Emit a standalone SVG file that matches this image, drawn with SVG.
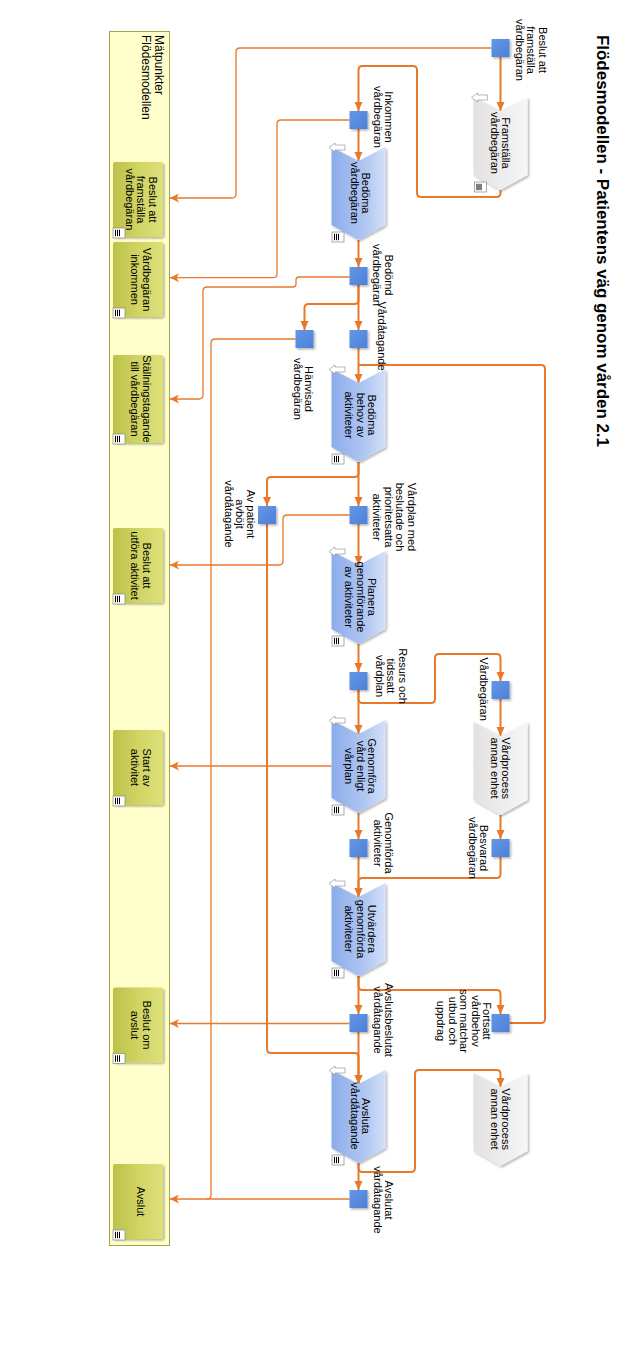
<svg xmlns="http://www.w3.org/2000/svg" width="625" height="1354" viewBox="0 0 625 1354">
<style>
.t{font-family:"Liberation Sans",Arial,sans-serif;font-size:11px;fill:#000}
.bt{font-family:"Liberation Sans",Arial,sans-serif;font-size:12px;fill:#000}
.title{font-family:"Liberation Sans",Arial,sans-serif;font-size:17px;font-weight:bold;fill:#000}
.p{fill:none;stroke:#E8792B;stroke-width:2;marker-end:url(#ar)}
.pn{fill:none;stroke:#E8792B;stroke-width:2}
.m{fill:none;stroke:#E8792B;stroke-width:1.3}
.ma{fill:none;stroke:#E8792B;stroke-width:1.3;marker-end:url(#am)}
.ev{fill:url(#gEv);filter:url(#sh)}
.pb{fill:url(#gPb);filter:url(#sh)}
.pg{fill:url(#gPg);filter:url(#sh)}
.mb{fill:url(#gMb);filter:url(#sh)}
</style>
<defs>
<filter id="sh" x="-20%" y="-20%" width="150%" height="150%"><feDropShadow dx="1.5" dy="1.5" stdDeviation="1" flood-color="#000" flood-opacity="0.3"/></filter>
<linearGradient id="gPb" x1="0" y1="0" x2="1" y2="0"><stop offset="0" stop-color="#8cacec"/><stop offset="0.65" stop-color="#b2c8f2"/><stop offset="1" stop-color="#d4e0f8"/></linearGradient>
<linearGradient id="gPg" x1="0" y1="0" x2="1" y2="0"><stop offset="0" stop-color="#e2e2e2"/><stop offset="1" stop-color="#f6f6f6"/></linearGradient>
<linearGradient id="gEv" x1="0" y1="0" x2="1" y2="1"><stop offset="0" stop-color="#6497e4"/><stop offset="1" stop-color="#4d80d8"/></linearGradient>
<linearGradient id="gMb" x1="0" y1="0" x2="1" y2="0"><stop offset="0" stop-color="#bcc14a"/><stop offset="0.5" stop-color="#d0d462"/><stop offset="1" stop-color="#dde07a"/></linearGradient>
<marker id="ar" markerUnits="userSpaceOnUse" markerWidth="9" markerHeight="9" viewBox="0 0 9 9" refX="9" refY="4.5" orient="auto"><path d="M0,0.5 L9,4.5 L0,8.5 Z" fill="#E8792B"/></marker>
<marker id="am" markerUnits="userSpaceOnUse" markerWidth="9" markerHeight="9" viewBox="0 0 9 9" refX="9" refY="4.5" orient="auto"><path d="M0,0 L9,4.5 L0,9 L2.5,4.5 Z" fill="#E8792B"/></marker>
<g id="icoArrow"><path d="M0,4.5 L6,0 L6,2 L16,2 L16,7 L6,7 L6,9 Z" fill="#fff" stroke="#999" stroke-width="0.7"/></g>
<g id="icoDoc"><rect x="0" y="0" width="12" height="10" fill="#fff" stroke="#888" stroke-width="0.7"/><path d="M2.5,1.8 V8.2 M4.5,1.8 V8.2 M6.5,1.8 V8.2" stroke="#000" stroke-width="1"/></g>
</defs>

<rect width="625" height="1354" fill="#fff"/>

<text id="title" class="title" transform="translate(597,35) rotate(90)" textLength="412">Flödesmodellen - Patientens väg genom vården 2.1</text>

<g id="band">
<rect x="109.5" y="31.5" width="60" height="1214" fill="#ffffcc" stroke="#a3a341" stroke-width="1"/>
<text class="bt" transform="translate(155,35) rotate(90)"><tspan x="0" y="0">Mätpunkter</tspan><tspan x="0" y="13.5">Flödesmodellen</tspan></text>
</g>

<g id="b1"><rect class="mb" x="113" y="162" width="50" height="75" rx="2"/><use href="#icoDoc" x="113" y="228"/>
<text class="t" text-anchor="middle" transform="translate(148.5,199.5) rotate(90)"><tspan x="0" y="0">Beslut att</tspan><tspan x="0" y="11.5">framställa</tspan><tspan x="0" y="23">vårdbegäran</tspan></text></g>
<g id="b2"><rect class="mb" x="113" y="242" width="50" height="75" rx="2"/><use href="#icoDoc" x="113" y="308"/>
<text class="t" text-anchor="middle" transform="translate(142.75,279.5) rotate(90)"><tspan x="0" y="0">Vårdbegäran</tspan><tspan x="0" y="11.5">inkommen</tspan></text></g>
<g id="b3"><rect class="mb" x="113" y="355" width="50" height="88" rx="2"/><use href="#icoDoc" x="113" y="434"/>
<text class="t" text-anchor="middle" transform="translate(142.75,399) rotate(90)"><tspan x="0" y="0">Ställningstagande</tspan><tspan x="0" y="11.5">till vårdbegäran</tspan></text></g>
<g id="b4"><rect class="mb" x="113" y="528" width="50" height="75" rx="2"/><use href="#icoDoc" x="113" y="594"/>
<text class="t" text-anchor="middle" transform="translate(142.75,565.5) rotate(90)"><tspan x="0" y="0">Beslut att</tspan><tspan x="0" y="11.5">utföra aktivitet</tspan></text></g>
<g id="b5"><rect class="mb" x="113" y="730" width="50" height="75" rx="2"/><use href="#icoDoc" x="113" y="796"/>
<text class="t" text-anchor="middle" transform="translate(142.75,767.5) rotate(90)"><tspan x="0" y="0">Start av</tspan><tspan x="0" y="11.5">aktivitet</tspan></text></g>
<g id="b6"><rect class="mb" x="113" y="987.5" width="50" height="75" rx="2"/><use href="#icoDoc" x="113" y="1053.5"/>
<text class="t" text-anchor="middle" transform="translate(142.75,1025) rotate(90)"><tspan x="0" y="0">Beslut om</tspan><tspan x="0" y="11.5">avslut</tspan></text></g>
<g id="b7"><rect class="mb" x="113" y="1164" width="50" height="75" rx="2"/><use href="#icoDoc" x="113" y="1230"/>
<text class="t" text-anchor="middle" transform="translate(137,1201.5) rotate(90)"><tspan x="0" y="0">Avslut</tspan></text></g>

<g id="connectors">
<path class="ma" d="M491.5,48 H240 Q236,48 236,52 V194 Q236,198 232,198 H170"/>
<path class="ma" d="M349.5,120 H281 Q277,120 277,124 V273.7 Q277,277.7 273,277.7 H170"/>
<path class="ma" d="M349.5,277 H299 Q296,277 296,280 V284 Q296,287 293,287 H207 Q203,287 203,291 V395 Q203,399 199,399 H170"/>
<path class="m" d="M295.5,339 H215 Q211,339 211,343 V1195 Q211,1199 207,1199"/>
<path class="ma" d="M349.5,515 H287 Q283,515 283,519 V561 Q283,565 279,565 H170"/>
<path class="ma" d="M331.5,766 H170"/>
<path class="ma" d="M349.5,1023.5 H170"/>
<path class="ma" d="M349.5,1199 H170"/>

<path class="p" d="M500.5,57 V111"/>
<path class="p" d="M500.5,190 V193 Q500.5,197 496.5,197 H421 Q417,197 417,193 V70 Q417,66 413,66 H362.5 Q358.5,66 358.5,70 V111"/>
<path class="p" d="M358.5,129 V161"/>
<path class="p" d="M358.5,240 V267"/>
<path class="p" d="M358.5,285 V330"/>
<path class="p" d="M358.5,285 V300 Q358.5,304 354.5,304 H308.5 Q304.5,304 304.5,308 V330"/>
<path class="pn" d="M509.5,1023 H541 Q545,1023 545,1019 V369 Q545,365 541,365 H358.5"/>
<path class="p" d="M358.5,348 V383"/>
<path class="p" d="M358.5,462 V506"/>
<path class="p" d="M358.5,462 V473 Q358.5,477 354.5,477 H271 Q267,477 267,481 V506"/>
<path class="p" d="M358.5,524 V565"/>
<path class="p" d="M267,524 V1049 Q267,1053 271,1053 H354.5 Q358.5,1053 358.5,1057 V1084"/>
<path class="p" d="M358.5,644 V672"/>
<path class="p" d="M358.5,690 V734"/>
<path class="p" d="M358.5,690 V699 Q358.5,703 362.5,703 H431 Q435,703 435,699 V658 Q435,654 439,654 H496.5 Q500.5,654 500.5,658 V681"/>
<path class="p" d="M500.5,699 V736"/>
<path class="p" d="M358.5,813 V839"/>
<path class="p" d="M500.5,815 V839"/>
<path class="p" d="M358.5,857 V897"/>
<path class="p" d="M500.5,857 V874 Q500.5,878 496.5,878 H362.5 Q358.5,878 358.5,882 V897"/>
<path class="p" d="M358.5,976 V1014"/>
<path class="p" d="M358.5,976 V986 Q358.5,990 362.5,990 H496.5 Q500.5,990 500.5,994 V1014"/>
<path class="p" d="M358.5,1032 V1084"/>
<path class="p" d="M358.5,1163 V1190"/>
<path class="p" d="M358.5,1163 V1168 Q358.5,1172 362.5,1172 H411 Q415,1172 415,1168 V1074 Q415,1070 419,1070 H496.5 Q500.5,1070 500.5,1074 V1087"/>
</g>

<!-- process nodes -->
<g id="p1"><path class="pg" d="M473.5,97 L500.5,111 L527.5,97 L527.5,175 L500.5,190 L473.5,175 Z"/><use href="#icoArrow" x="471.5" y="93"/><use href="#icoDoc" x="474.5" y="182"/>
<text class="t" text-anchor="middle" transform="translate(502,143) rotate(90)"><tspan x="0" y="0">Framställa</tspan><tspan x="0" y="11.5">vårdbegäran</tspan></text></g>
<g id="p2"><path class="pb" d="M331.5,147 L358.5,161 L385.5,147 L385.5,225 L358.5,240 L331.5,225 Z"/><use href="#icoArrow" x="329" y="143"/><use href="#icoDoc" x="332" y="232"/>
<text class="t" text-anchor="middle" transform="translate(362.25,193) rotate(90)"><tspan x="0" y="0">Bedöma</tspan><tspan x="0" y="11.5">vårdbegäran</tspan></text></g>
<g id="p3"><path class="pb" d="M331.5,369 L358.5,383 L385.5,369 L385.5,447 L358.5,462 L331.5,447 Z"/><use href="#icoArrow" x="329" y="365"/><use href="#icoDoc" x="332" y="454"/>
<text class="t" text-anchor="middle" transform="translate(368,415) rotate(90)"><tspan x="0" y="0">Bedöma</tspan><tspan x="0" y="11.5">behov av</tspan><tspan x="0" y="23">aktiviteter</tspan></text></g>
<g id="p4"><path class="pb" d="M331.5,551 L358.5,565 L385.5,551 L385.5,629 L358.5,644 L331.5,629 Z"/><use href="#icoArrow" x="329" y="547"/><use href="#icoDoc" x="332" y="636"/>
<text class="t" text-anchor="middle" transform="translate(368,597) rotate(90)"><tspan x="0" y="0">Planera</tspan><tspan x="0" y="11.5">genomförande</tspan><tspan x="0" y="23">av aktiviteter</tspan></text></g>
<g id="p5"><path class="pb" d="M331.5,720 L358.5,734 L385.5,720 L385.5,798 L358.5,813 L331.5,798 Z"/><use href="#icoArrow" x="329" y="716"/><use href="#icoDoc" x="332" y="805"/>
<text class="t" text-anchor="middle" transform="translate(368,766) rotate(90)"><tspan x="0" y="0">Genomföra</tspan><tspan x="0" y="11.5">vård enligt</tspan><tspan x="0" y="23">vårplan</tspan></text></g>
<g id="p6"><path class="pb" d="M331.5,883 L358.5,897 L385.5,883 L385.5,961 L358.5,976 L331.5,961 Z"/><use href="#icoArrow" x="329" y="879"/><use href="#icoDoc" x="332" y="968"/>
<text class="t" text-anchor="middle" transform="translate(368,929) rotate(90)"><tspan x="0" y="0">Utvärdera</tspan><tspan x="0" y="11.5">genomförda</tspan><tspan x="0" y="23">aktiviteter</tspan></text></g>
<g id="p7"><path class="pb" d="M331.5,1070 L358.5,1084 L385.5,1070 L385.5,1148 L358.5,1163 L331.5,1148 Z"/><use href="#icoArrow" x="329" y="1066"/><use href="#icoDoc" x="332" y="1155"/>
<text class="t" text-anchor="middle" transform="translate(362.25,1116) rotate(90)"><tspan x="0" y="0">Avsluta</tspan><tspan x="0" y="11.5">vårdåtagande</tspan></text></g>
<g id="p8"><path class="pg" d="M473.5,722 L500.5,736 L527.5,722 L527.5,800 L500.5,815 L473.5,800 Z"/>
<text class="t" text-anchor="middle" transform="translate(502,768) rotate(90)"><tspan x="0" y="0">Vårdprocess</tspan><tspan x="0" y="11.5">annan enhet</tspan></text></g>
<g id="p9"><path class="pg" d="M473.5,1073 L500.5,1087 L527.5,1073 L527.5,1151 L500.5,1166 L473.5,1151 Z"/>
<text class="t" text-anchor="middle" transform="translate(502,1119) rotate(90)"><tspan x="0" y="0">Vårdprocess</tspan><tspan x="0" y="11.5">annan enhet</tspan></text></g>

<!-- events -->
<g id="e1"><rect class="ev" x="491.5" y="39" width="18" height="18"/>
<text class="t" text-anchor="middle" transform="translate(538.5,50) rotate(90)"><tspan x="0" y="0">Beslut att</tspan><tspan x="0" y="11.5">framställa</tspan><tspan x="0" y="23">vårdbegäran</tspan></text></g>
<g id="e2"><rect class="ev" x="349.5" y="111" width="18" height="18"/>
<text class="t" text-anchor="middle" transform="translate(385,117) rotate(90)"><tspan x="0" y="0">Inkommen</tspan><tspan x="0" y="11.5">vårdbegäran</tspan></text></g>
<g id="e3"><rect class="ev" x="349.5" y="267" width="18" height="18"/>
<text class="t" text-anchor="middle" transform="translate(384.5,275) rotate(90)"><tspan x="0" y="0">Bedömd</tspan><tspan x="0" y="11.5">vårdbegäran</tspan></text></g>
<g id="e4"><rect class="ev" x="295.5" y="330" width="18" height="18"/>
<text class="t" text-anchor="middle" transform="translate(305,389) rotate(90)"><tspan x="0" y="0">Hänvisad</tspan><tspan x="0" y="11.5">vårdbegäran</tspan></text></g>
<g id="e5"><rect class="ev" x="349.5" y="330" width="18" height="18"/>
<text class="t" text-anchor="middle" transform="translate(378,336) rotate(90)"><tspan x="0" y="0">Vårdåtagande</tspan></text></g>
<g id="e6"><rect class="ev" x="349.5" y="506" width="18" height="18"/>
<text class="t" text-anchor="middle" transform="translate(407.5,517) rotate(90)"><tspan x="0" y="0">Vårdplan med</tspan><tspan x="0" y="11.5">beslutade och</tspan><tspan x="0" y="23">prioritetsatta</tspan><tspan x="0" y="34.5">aktiviteter</tspan></text></g>
<g id="e7"><rect class="ev" x="258" y="506" width="18" height="18"/>
<text class="t" text-anchor="middle" transform="translate(247,514) rotate(90)"><tspan x="0" y="0">Av patient</tspan><tspan x="0" y="11">avböjt</tspan><tspan x="0" y="22">vårdåtagande</tspan></text></g>
<g id="e8"><rect class="ev" x="349.5" y="672" width="18" height="18"/>
<text class="t" text-anchor="middle" transform="translate(398.5,676) rotate(90)"><tspan x="0" y="0">Resurs och</tspan><tspan x="0" y="11.5">tidssatt</tspan><tspan x="0" y="23">vårdplan</tspan></text></g>
<g id="e9"><rect class="ev" x="491.5" y="681" width="18" height="18"/>
<text class="t" text-anchor="middle" transform="translate(480,689) rotate(90)"><tspan x="0" y="0">Vårdbegäran</tspan></text></g>
<g id="e10"><rect class="ev" x="349.5" y="839" width="18" height="18"/>
<text class="t" text-anchor="middle" transform="translate(385,843) rotate(90)"><tspan x="0" y="0">Genomförda</tspan><tspan x="0" y="11.5">aktiviteter</tspan></text></g>
<g id="e11"><rect class="ev" x="491.5" y="839" width="18" height="18"/>
<text class="t" text-anchor="middle" transform="translate(480,848) rotate(90)"><tspan x="0" y="0">Besvarad</tspan><tspan x="0" y="11.5">vårdbegäran</tspan></text></g>
<g id="e12"><rect class="ev" x="349.5" y="1014" width="18" height="18"/>
<text class="t" text-anchor="middle" transform="translate(385,1020) rotate(90)"><tspan x="0" y="0">Avslutsbeslutat</tspan><tspan x="0" y="11.5">vårdåtagande</tspan></text></g>
<g id="e13"><rect class="ev" x="491.5" y="1014" width="18" height="18"/>
<text class="t" text-anchor="middle" transform="translate(483,1021) rotate(90)"><tspan x="0" y="0">Fortsatt</tspan><tspan x="0" y="11.5">vårdbehov</tspan><tspan x="0" y="23">som matchar</tspan><tspan x="0" y="34.5">utbud och</tspan><tspan x="0" y="46">uppdrag</tspan></text></g>
<g id="e14"><rect class="ev" x="349.5" y="1190" width="18" height="18"/>
<text class="t" text-anchor="middle" transform="translate(385,1200) rotate(90)"><tspan x="0" y="0">Avslutat</tspan><tspan x="0" y="11.5">vårdåtagande</tspan></text></g>
</svg>
